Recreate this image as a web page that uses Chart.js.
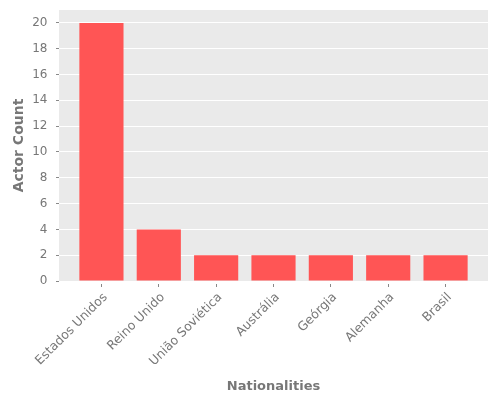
<!DOCTYPE html>
<html>
<head>
<meta charset="utf-8">
<script src="https://cdn.jsdelivr.net/npm/chart.js@4/dist/chart.umd.min.js"></script>
<style>
  html, body { margin: 0; padding: 0; background: #fff; }
  #wrap { width: 500px; height: 400px; }
</style>
</head>
<body>
<div id="wrap"><canvas id="nationChart"></canvas></div>
<script>
const nationalities = ['Estados Unidos', 'Reino Unido', 'União Soviética', 'Austrália', 'Geórgia', 'Alemanha', 'Brasil'];
const actorCounts = [20, 4, 2, 2, 2, 2, 2];
const yTicks = [0, 2, 4, 6, 8, 10, 12, 14, 16, 18, 20];

// grey panel behind the plot, ggplot style
const panelBg = {
  id: 'panelBg',
  beforeDraw(chart) {
    const { ctx, chartArea: a } = chart;
    ctx.save();
    ctx.fillStyle = '#EAEAEA';
    ctx.fillRect(a.left, a.top, a.right - a.left, a.bottom - a.top);
    ctx.restore();
  }
};

// short tick marks sitting a little away from the panel edge
const tickStyle = { tickLength: 6, tickColor: '#888', tickBorderDash: [3, 3], tickBorderDashOffset: 3 };

const ctx = document.getElementById('nationChart').getContext('2d');
new Chart(ctx, {
  type: 'bar',
  data: {
    datasets: [{
      label: 'Actor Count',
      data: actorCounts.map((v, i) => ({ x: i, y: v })),
      backgroundColor: '#FF5555',
      borderWidth: 0,
      categoryPercentage: 1,
      barPercentage: 0.77,
    }]
  },
  options: {
    responsive: true,
    maintainAspectRatio: false,
    animation: false,
    layout: { padding: { top: 10, right: 12, left: 10.6, bottom: 5.2 } },
    plugins: {
      legend: { display: false },
      tooltip: { enabled: false },
    },
    scales: {
      x: {
        type: 'linear',
        offset: false,
        min: -0.74,
        max: 6.74,
        afterBuildTicks: (scale) => {
          scale.ticks = nationalities.map((_, i) => ({ value: i }));
        },
        afterFit: (scale) => { scale.height = 113.8; },
        border: { display: false },
        grid: { offset: false, drawOnChartArea: false, drawTicks: true, ...tickStyle },
        ticks: {
          autoSkip: false,
          minRotation: 45,
          maxRotation: 45,
          padding: 3,
          labelOffset: 4,
          color: '#777',
          font: { family: 'DejaVu Sans', size: 12.5 },
          callback: (v) => nationalities[v],
        },
        title: {
          display: true,
          text: 'Nationalities',
          color: '#777',
          font: { family: 'DejaVu Sans', size: 13, weight: 'bold' },
          padding: 0,
        },
      },
      y: {
        min: 0,
        max: 21,
        afterBuildTicks: (scale) => {
          scale.ticks = yTicks.map((v) => ({ value: v }));
        },
        afterFit: (scale) => {
          scale.width = 48.4;
          // let layout padding alone decide the panel top
          scale.paddingTop = 0;
          scale.paddingBottom = 0;
        },
        border: { display: false },
        grid: { color: '#FFFFFF', lineWidth: 1, ...tickStyle },
        ticks: {
          padding: 5.5,
          color: '#777',
          font: { family: 'DejaVu Sans', size: 12 },
        },
        title: {
          display: true,
          text: 'Actor Count',
          color: '#777',
          font: { family: 'DejaVu Sans', size: 14, weight: 'bold' },
          padding: 0,
        },
      },
    },
  },
  plugins: [panelBg],
});
</script>
</body>
</html>
